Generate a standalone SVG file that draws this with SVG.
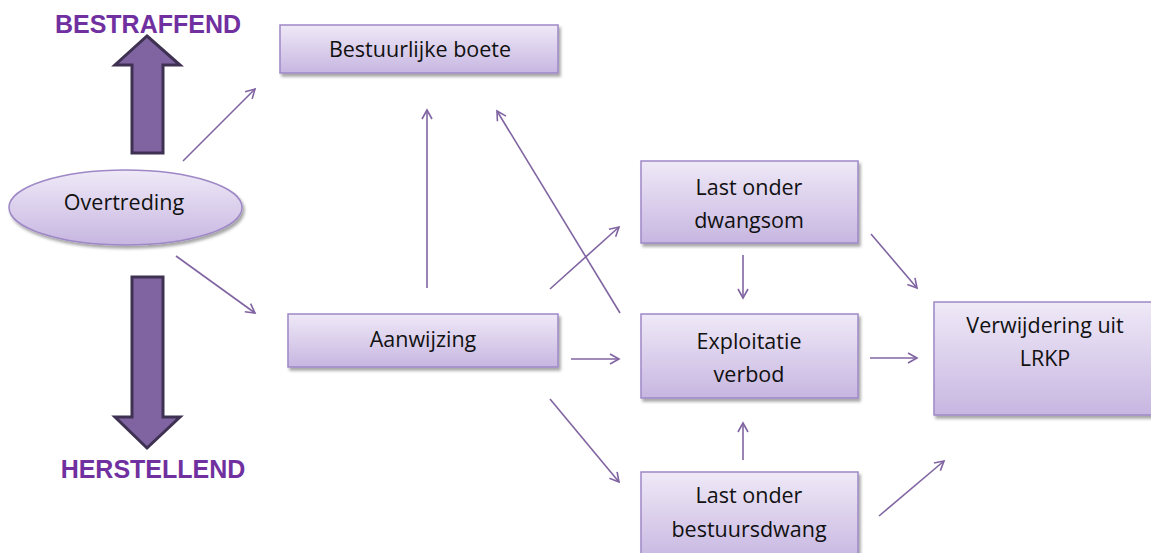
<svg xmlns="http://www.w3.org/2000/svg" width="1151" height="553" viewBox="0 0 1151 553">
<defs>
<linearGradient id="g" x1="0" y1="0" x2="0" y2="1">
<stop offset="0" stop-color="#EFE9F7"/>
<stop offset="1" stop-color="#C7B6E1"/>
</linearGradient>
<filter id="sh" x="-10%" y="-10%" width="130%" height="140%">
<feDropShadow dx="2" dy="3" stdDeviation="1.5" flood-color="#000" flood-opacity="0.35"/>
</filter>
<marker id="ah" markerWidth="14" markerHeight="14" refX="11" refY="7" orient="auto" markerUnits="userSpaceOnUse">
<path d="M2,2 L11,7 L2,12" fill="none" stroke="#8064A2" stroke-width="1.6"/>
</marker>
<style>
.box{fill:url(#g);stroke:#9E88C6;stroke-width:1.5;filter:url(#sh)}
.t{font-family:"Open Sans","Liberation Sans",sans-serif;font-size:21.5px;fill:#111;text-anchor:middle}
.big{font-family:"Liberation Sans",Arial,sans-serif;font-weight:bold;font-size:25px;fill:#7030A0;text-anchor:middle}
.c{stroke:#8064A2;stroke-width:1.6;fill:none;marker-end:url(#ah)}
.fat{fill:#8064A2;stroke:#3F3151;stroke-width:3;stroke-linejoin:miter}
</style>
</defs>
<rect width="1151" height="553" fill="#fff"/>

<g id="bestraffend">
<text class="big" x="148" y="33">BESTRAFFEND</text>
<path class="fat" d="M147,36 L180,65 L163,65 L163,153 L132,153 L132,65 L115,65 Z"/>
</g>
<g id="herstellend">
<path class="fat" d="M132,277 L163,277 L163,417 L180,417 L147,448 L115,417 L132,417 Z"/>
<text class="big" x="153" y="478">HERSTELLEND</text>
</g>

<g id="connectors">
<line class="c" x1="183" y1="161" x2="255" y2="89"/>
<line class="c" x1="176" y1="256" x2="255" y2="313"/>
<line class="c" x1="427" y1="288" x2="427" y2="110"/>
<line class="c" x1="620" y1="313" x2="497" y2="111"/>
<line class="c" x1="550" y1="289" x2="619" y2="227"/>
<line class="c" x1="571" y1="359" x2="619" y2="359"/>
<line class="c" x1="550" y1="399" x2="619" y2="482"/>
<line class="c" x1="743" y1="255" x2="743" y2="298"/>
<line class="c" x1="743" y1="460" x2="743" y2="423"/>
<line class="c" x1="871" y1="234" x2="917" y2="288"/>
<line class="c" x1="870" y1="358" x2="917" y2="358"/>
<line class="c" x1="879" y1="516" x2="944" y2="461"/>
</g>

<g id="overtreding">
<ellipse class="box" cx="125.5" cy="207.5" rx="116.5" ry="37.5"/>
<text class="t" x="124" y="210">Overtreding</text>
</g>
<g id="bestuurlijke-boete">
<rect class="box" x="280" y="25" width="278" height="48"/>
<text class="t" x="420" y="57">Bestuurlijke boete</text>
</g>
<g id="aanwijzing">
<rect class="box" x="288" y="314" width="270" height="53"/>
<text class="t" x="423" y="347">Aanwijzing</text>
</g>
<g id="last-onder-dwangsom">
<rect class="box" x="641" y="161" width="217" height="82"/>
<text class="t" x="749" y="195">Last onder</text>
<text class="t" x="749" y="228">dwangsom</text>
</g>
<g id="exploitatie-verbod">
<rect class="box" x="641" y="314" width="217" height="84"/>
<text class="t" x="749" y="349">Exploitatie</text>
<text class="t" x="749" y="382">verbod</text>
</g>
<g id="last-onder-bestuursdwang">
<rect class="box" x="641" y="472" width="217" height="90"/>
<text class="t" x="749" y="503">Last onder</text>
<text class="t" x="749" y="537">bestuursdwang</text>
</g>
<g id="verwijdering">
<rect class="box" x="934" y="302" width="225" height="113"/>
<text class="t" x="1045" y="333">Verwijdering uit</text>
<text class="t" x="1045" y="366">LRKP</text>
</g>
</svg>
